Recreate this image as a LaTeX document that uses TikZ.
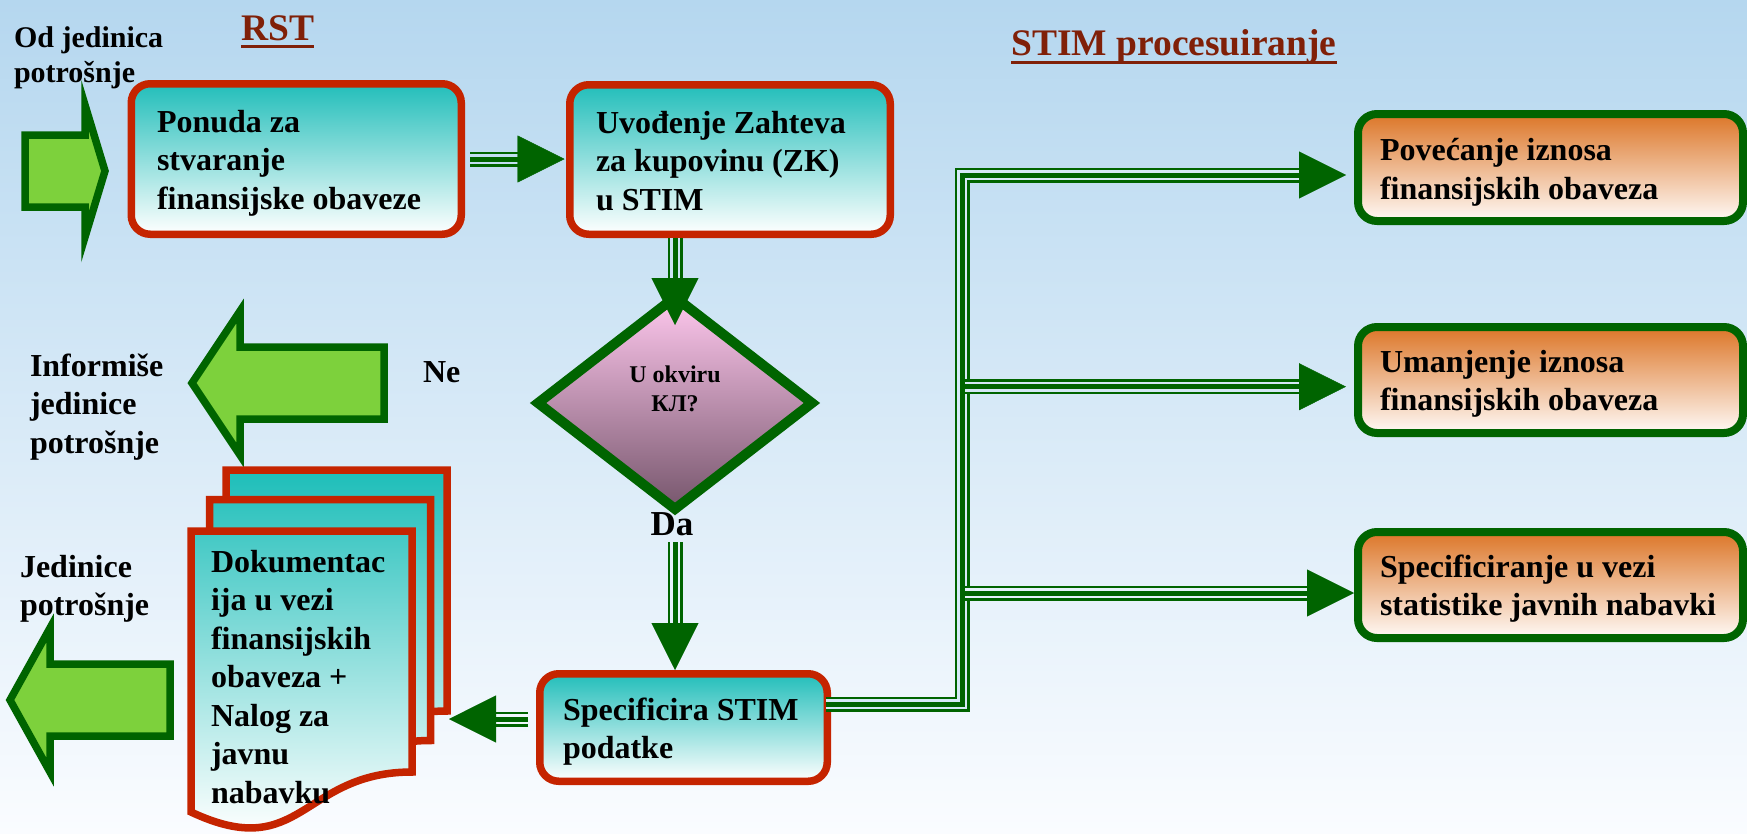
\documentclass[tikz,border=0pt]{standalone}
\usepackage{fontspec}
\setmainfont{Liberation Serif}
\usetikzlibrary{arrows.meta,shapes.geometric}

\definecolor{bgTop}{RGB}{181,215,239}
\definecolor{bgBot}{RGB}{250,252,255}
\definecolor{redB}{RGB}{197,36,0}
\definecolor{dg}{RGB}{0,100,0}
\definecolor{lgreen}{RGB}{125,209,60}
\definecolor{tealT}{RGB}{34,190,186}
\definecolor{docT}{RGB}{26,189,184}
\definecolor{orangeT}{RGB}{220,118,40}
\definecolor{orangeB}{RGB}{255,250,247}
\definecolor{pinkT}{RGB}{255,200,238}
\definecolor{mauveB}{RGB}{118,86,108}
\definecolor{titleC}{RGB}{128,32,8}
\colorlet{gapc}{bgTop}

% outline of one sheet of the document stack (x, y of its top left corner)
\newcommand{\docshape}[2]{(#1,#2) -- (#1+221,#2) -- (#1+221,#2+241)
  .. controls (#1+110.5,#2+241) and (#1+110.5,#2+333) .. (#1,#2+281) -- cycle}

\tikzset{
  gapcol/.code={\colorlet{gapc}{#1}},
  % thin-thick-thin compound connector with a solid triangular head
  flow/.style={draw=dg, line width=15pt, line join=miter, shorten >=#1+44pt,
    postaction={draw=gapc, line width=10pt},
    postaction={draw=dg, line width=5pt},
    postaction={draw=dg, line width=0.4pt, shorten >=#1,
      -{Triangle[length=47pt,width=47pt]}}},
  flow/.default=0pt,
  blockarrow/.style={fill=lgreen, draw=dg, line width=7.5pt, line join=miter},
  rbox/.style={draw=redB, line width=7.5pt, rounded corners=19pt,
    top color=tealT, bottom color=white, inner sep=0pt},
  gbox/.style={draw=dg, line width=8pt, rounded corners=19pt,
    top color=orangeT, bottom color=orangeB, inner sep=0pt},
  sheet/.style={draw=redB, line width=7.5pt, line join=miter},
  % multi-line labels are placed by the baseline of their last line
  txt/.style={inner sep=0pt, outer sep=0pt, align=left, anchor=base west,
    font=\fontsize{32pt}{38.5pt}\selectfont\bfseries},
  title/.style={inner sep=0pt, anchor=base west, text=titleC,
    font=\fontsize{37.5pt}{45pt}\selectfont\bfseries},
}

\begin{document}
\begin{tikzpicture}[x=1pt, y=-1pt]
\useasboundingbox (0,0) rectangle (1747,833);
\shade[top color=bgTop, bottom color=bgBot] (0,0) rectangle (1747,833);

% headings
\node[title] (rst) at (241,40) {RST};
\draw[titleC, line width=3pt] ([yshift=-6pt]rst.base west) -- ([yshift=-6pt]rst.base east);
\node[title] (stim) at (1011,55) {STIM procesuiranje};
\draw[titleC, line width=3pt] ([yshift=-7pt]stim.base west) -- ([yshift=-7pt]stim.base east);

% side labels
\node[txt, font=\fontsize{30pt}{35pt}\selectfont\bfseries] (src) at (14,82) {Od jedinica\\potrošnje};
\node[txt] (inf) at (30,453) {Informiše\\jedinice\\potrošnje};
\node[txt] (ne) at (423,382) {Ne};
\node[txt] (dest) at (20,615.5) {Jedinice\\potrošnje};

% big green block arrows
\draw[blockarrow] (25,135) -- (85,135) -- (85,105) -- (105,171) -- (85,237) -- (85,207) -- (25,207) -- cycle;
\draw[blockarrow] (192,383) -- (240,311) -- (240,347) -- (384,347) -- (384,419) -- (240,419) -- (240,455) -- cycle;
\draw[blockarrow] (10,700) -- (50,628) -- (50,664) -- (170,664) -- (170,736) -- (50,736) -- (50,772) -- cycle;

% process boxes
\node[rbox, minimum width=330pt, minimum height=150.5pt] (b1) at (296.25,159) {};
\node[rbox, minimum width=320.5pt, minimum height=149.5pt] (b2) at (730,159.5) {};
\node[rbox, minimum width=287.5pt, minimum height=107.5pt] (spec) at (683.5,727.5) {};
\node[gbox, minimum width=385pt, minimum height=107pt] (pov) at (1550.5,167.5) {};
\node[gbox, minimum width=385pt, minimum height=106pt] (uman) at (1550.5,380) {};
\node[gbox, minimum width=385pt, minimum height=106pt] (specn) at (1550.5,585) {};

\node[txt] (tb1) at (157,209) {Ponuda za\\stvaranje\\finansijske obaveze};
\node[txt] (tb2) at (596,210) {Uvođenje Zahteva\\za kupovinu (ZK)\\u STIM};
\node[txt] (tspec) at (563,758.5) {Specificira STIM\\podatke};
\node[txt] (tpov) at (1380,199) {Povećanje iznosa\\finansijskih obaveza};
\node[txt] (tuman) at (1380,410.5) {Umanjenje iznosa\\finansijskih obaveza};
\node[txt] (tspecn) at (1380,615.5) {Specificiranje u vezi\\statistike javnih nabavki};

% decision
\node[diamond, draw=dg, line width=10pt, minimum width=278pt, minimum height=216pt,
  inner sep=0pt, top color=pinkT, bottom color=mauveB] (dia) at (675,403) {};
\node[txt, align=center, anchor=base, font=\fontsize{24pt}{29.5pt}\selectfont\bfseries] (q) at (675,411.5) {U okviru\\КЛ?};
\node[txt, anchor=base, font=\fontsize{35pt}{42pt}\selectfont\bfseries] (da) at (672,535) {Da};

% stack of documents, one gradient over the whole stack
\foreach \sx/\sy in {226/470, 209.5/499.5, 191/531} {
  \begin{scope}
    \clip \docshape{\sx}{\sy};
    \shade[top color=docT, bottom color=white] (180,466) rectangle (460,835);
  \end{scope}
  \draw[sheet] \docshape{\sx}{\sy};
}
\node[txt] (tdoc) at (211,803) {Dokumentac\\ija u vezi\\finansijskih\\obaveza +\\Nalog za\\javnu\\nabavku};

% connectors
\coordinate (docIn) at (449,719);
\coordinate (jb) at (962,704);
\coordinate (jt) at (962,175);
\coordinate (jm) at (965,386.7);
\coordinate (js) at (965,593);

\draw[flow=1.5pt, gapcol=bgBot!19!bgTop, shorten <=5pt] (b1.east) -- (b1.east -| b2.west);
\draw[flow=78pt, gapcol=bgBot!34!bgTop] (b2.south -| dia) -- (dia.center);
\draw[flow, gapcol=bgBot!73!bgTop, shorten <=6.7pt] (da.south -| dia) -- (spec.north -| dia);
\draw[flow, gapcol=bgBot!86!bgTop, shorten <=8pt] (spec.west |- docIn) -- (docIn);
\draw[flow=8pt, gapcol=bgBot!50!bgTop, shorten <=-5pt] (spec.east |- jb) -- (jb) -- (jt) -- (pov.west |- jt);
\draw[flow=8pt, gapcol=bgBot!46!bgTop] (jm) -- (uman.west |- jm);
\draw[flow, gapcol=bgBot!71!bgTop] (js) -- (specn.west |- js);
\end{tikzpicture}
\end{document}
